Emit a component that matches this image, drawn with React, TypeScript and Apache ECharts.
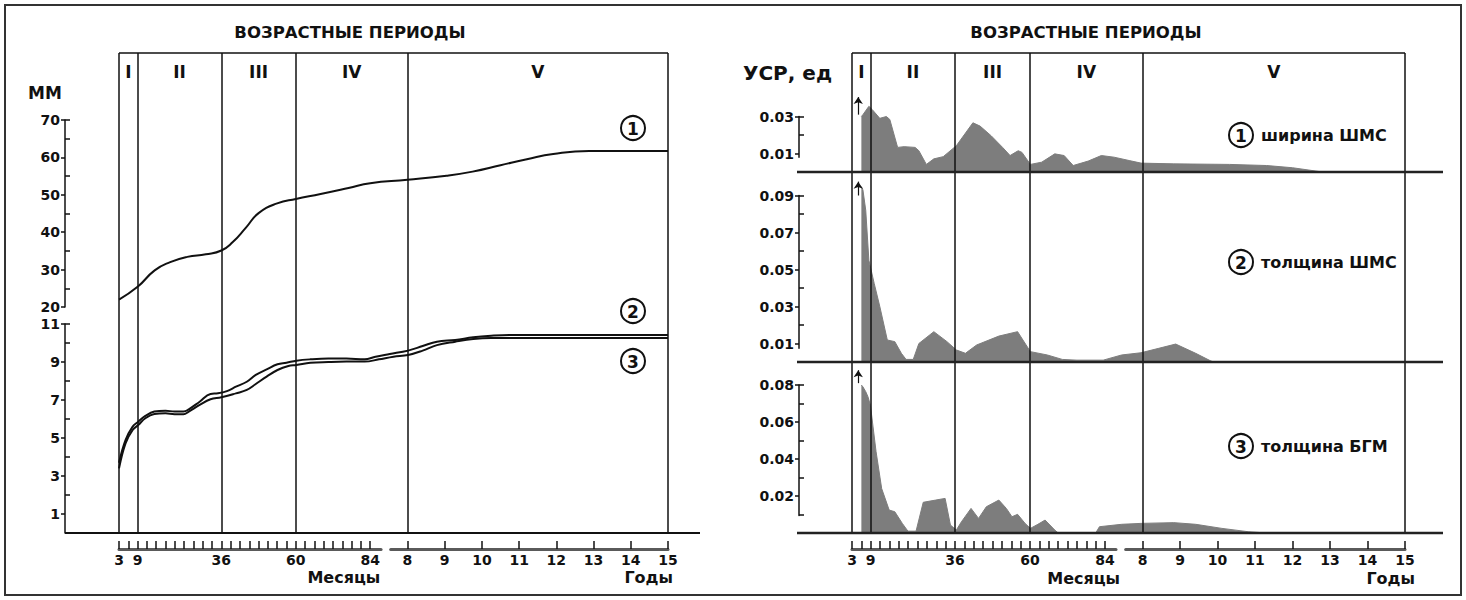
import React, { useEffect, useRef } from "react";
import * as echarts from "echarts";

const FONT = "DejaVu Sans";
const INK = "#111";
const FILL = "#7d7d7d";

// Age axis, in months: 3 months … 15 years
const ageMin = 3;
const ageMax = 180;

const periodEdges = [3, 9, 36, 60, 96, 180];
const periodNames = ["I", "II", "III", "IV", "V"];

const monthTicks = [3, 6, 9, 12, 15, 18, 21, 24, 27, 30, 33, 36, 39, 42, 45, 48, 51, 54, 57, 60, 63, 66, 69, 72, 75, 78, 81, 84];
const monthLabels = [3, 9, 36, 60, 84];
const yearTicks = [8, 9, 10, 11, 12, 13, 14, 15];

const periodTitle = "ВОЗРАСТНЫЕ ПЕРИОДЫ";
const mmTitle = "ММ";
const rateTitle = "УСР, ед";
const monthsName = "Месяцы";
const yearsName = "Годы";

// Absolute sizes, mm
const widthAge = [3, 9, 14.5, 19.5, 25, 31, 36, 39.6, 44, 48, 54, 60, 68, 77, 84, 96, 108.6, 117, 126, 134.5, 143, 154.6, 180];
const widthMm = [22.0, 25.4, 29.8, 32.0, 33.4, 34.1, 35.1, 37.3, 41.3, 45.1, 47.7, 48.9, 50.2, 51.8, 53.1, 54.0, 55.1, 56.2, 57.9, 59.5, 60.9, 61.7, 61.7];

const thickAge = [3, 5.1, 7.4, 9.2, 11.5, 14.4, 18, 20.9, 23.8, 25.5, 29, 32.5, 34.9, 37.8, 40.7, 44.2, 47.1, 50.6, 54.1, 57, 60.2, 64.7, 70.5, 76.3, 82.2, 85.7, 90.3, 96.2, 100.9, 105.5, 111.4, 117.2, 123, 128.9, 180];
const thickMm = [3.7, 4.89, 5.6, 5.86, 6.16, 6.39, 6.44, 6.39, 6.39, 6.51, 6.91, 7.32, 7.35, 7.47, 7.7, 7.96, 8.32, 8.61, 8.88, 8.96, 9.07, 9.14, 9.18, 9.18, 9.14, 9.28, 9.42, 9.6, 9.84, 10.07, 10.16, 10.3, 10.38, 10.42, 10.42];

const gbmAge = [3, 5.1, 7.4, 9.2, 11.5, 14.4, 18, 20.9, 23.8, 25.5, 29, 32.5, 36, 40.7, 44.2, 47.1, 50.6, 54.1, 57.6, 60.2, 64.7, 70.5, 76.3, 82.2, 86.8, 91.5, 96.2, 100.9, 105.5, 111.4, 117.2, 123, 128.9, 180];
const gbmMm = [3.4, 4.72, 5.42, 5.68, 6.04, 6.26, 6.3, 6.25, 6.25, 6.39, 6.74, 7.04, 7.14, 7.35, 7.53, 7.84, 8.23, 8.58, 8.79, 8.84, 8.96, 9.0, 9.02, 9.02, 9.14, 9.28, 9.37, 9.6, 9.89, 10.07, 10.21, 10.26, 10.26, 10.26];

const mmUpperLabels = [20, 30, 40, 50, 60, 70];
const mmUpperMinor = [25, 35, 45, 55, 65, 70];
const mmLowerLabels = [1, 3, 5, 7, 9, 11];
const mmLowerMinor = [2, 4, 6, 8, 10, 11];

// Growth rate (УСР, ед)
const rateWidthAge = [6, 6.5, 8.4, 9.5, 11.9, 14, 15.1, 17.6, 19.7, 23.2, 24.4, 26.8, 29.2, 32.2, 36.4, 41.7, 44, 47.6, 51.2, 53.6, 56.2, 57.4, 60.1, 63.7, 67.9, 70.9, 73.8, 78.6, 82.8, 86.9, 91.7, 95.5, 106, 123.8, 135.7, 144, 153.6];
const rateWidth = [0.030, 0.031, 0.0355, 0.0337, 0.029, 0.030, 0.0284, 0.0133, 0.0137, 0.0133, 0.0115, 0.0041, 0.0071, 0.0083, 0.0142, 0.0266, 0.0248, 0.0195, 0.0133, 0.0089, 0.0115, 0.0106, 0.0041, 0.0053, 0.0098, 0.0089, 0.0035, 0.0059, 0.0089, 0.008, 0.0062, 0.0048, 0.0044, 0.0041, 0.0035, 0.0023, 0];

const rateThickAge = [6, 6.5, 7.4, 8.4, 10.1, 11.9, 14.3, 16.7, 18.8, 20.3, 22.6, 24.4, 29.2, 33.4, 36.4, 39.3, 42.9, 50, 56, 60.1, 65.5, 70.3, 75, 83.4, 89.3, 95.5, 101.2, 106.6, 113, 117.9, 119];
const rateThick = [0.0948, 0.093, 0.082, 0.055, 0.0425, 0.030, 0.0119, 0.011, 0.0047, 0.0014, 0.0014, 0.010, 0.0164, 0.011, 0.0065, 0.0047, 0.0092, 0.014, 0.0164, 0.0056, 0.0038, 0.0014, 0.001, 0.001, 0.0038, 0.005, 0.0074, 0.0097, 0.0047, 0.0005, 0];

const rateGbmAge = [6, 6.5, 7.4, 8.1, 8.9, 10.7, 12.5, 14.9, 16.7, 19.1, 20.9, 23.5, 25.8, 29.8, 32.8, 34.5, 36.4, 38, 41.1, 43.5, 46, 50, 52.4, 54.2, 56, 58.4, 60.1, 62.5, 64.8, 67.9, 69, 81, 82.2, 89.3, 95.5, 106, 113, 121.4, 129.8, 135.7];
const rateGbm = [0.080, 0.079, 0.0764, 0.0737, 0.069, 0.044, 0.024, 0.0124, 0.0115, 0.0052, 0.001, 0.001, 0.0166, 0.0178, 0.0187, 0.0043, 0.0016, 0.006, 0.0133, 0.0079, 0.0142, 0.0178, 0.0133, 0.0088, 0.0101, 0.0052, 0.0025, 0.0047, 0.007, 0.0016, 0, 0, 0.0034, 0.0047, 0.0052, 0.0056, 0.0047, 0.0025, 0.0007, 0];

// Off-scale markers near the start (from, to)
const arrowAge = 5;
const arrowWidth = [0.031, 0.0405];
const arrowThick = [0.09, 0.0975];
const arrowGbm = [0.081, 0.088];

const rateLabels = [[0.01, 0.03], [0.01, 0.03, 0.05, 0.07, 0.09], [0.02, 0.04, 0.06, 0.08]];
const rateMinor = [[0.02, 0.03], [0.02, 0.04, 0.06, 0.08, 0.09], [0.01, 0.03, 0.05, 0.07, 0.08]];
const panelNames = ["ширина ШМС", "толщина ШМС", "толщина БГМ"];
const curveMarks = ["1", "2", "3"];

// ---- layout ----
const LEFT = { x0: 119, x1: 668, axisX: 65, top: 53, base: 533, baseEnd: 700 };
const RIGHT = { x0: 852, x1: 1405, axisX: 799, top: 53, base: 533, baseEnd: 1443 };
const MM_UP = { min: 20, max: 70, top: 120, bottom: 307 };
const MM_LOW = { min: 0, max: 11, top: 324, bottom: 533 };
const RATE_PX = 1850;
const PANELS = [
  { base: 172, axisMin: 0.008, axisMax: 0.03, dataMax: 0.045, labelY: 135 },
  { base: 362, axisMin: 0.0075, axisMax: 0.09, dataMax: 0.1, labelY: 262 },
  { base: 533, axisMin: 0.0095, axisMax: 0.08, dataMax: 0.09, labelY: 446 },
];
const SCALE_Y = 549;

type Side = typeof LEFT;
const ageToX = (s: Side, m: number) => s.x0 + ((m - ageMin) / (ageMax - ageMin)) * (s.x1 - s.x0);
const zip = (xs: number[], ys: number[]) => xs.map((x, i) => [x, ys[i]]);

const textBase = { fontFamily: FONT, fontWeight: "bold" as const, color: INK };

function buildOption() {
  const grid: any[] = [];
  const xAxis: any[] = [];
  const yAxis: any[] = [];
  const series: any[] = [];
  const graphic: any[] = [];

  const hidden = (min: number, max: number) => ({ type: "value", show: false, min, max, axisLine: { onZero: false } });

  const addGrid = (g: any, xa: any, ya: any) => {
    const gi = grid.length;
    grid.push({ ...g, containLabel: false, outerBoundsMode: "none", show: false });
    xAxis.push({ ...xa, gridIndex: gi });
    const yi = yAxis.length;
    yAxis.push({ ...ya, gridIndex: gi });
    return { xi: gi, yi, gi };
  };

  // vertical value axis: labelled outer ticks + inner minor ticks
  const valueAxis = (x: number, top: number, height: number, min: number, max: number, labels: number[], minor: number[], fmt: (v: number) => string) => {
    const g = addGrid({ left: x, top, width: 20, height }, hidden(0, 1), {
      type: "value", min, max, position: "left",
      axisLine: { show: true, onZero: false, lineStyle: { color: INK, width: 1.5 } },
      axisTick: { show: true, inside: false, length: 4, customValues: labels, lineStyle: { color: INK, width: 1.5 } },
      axisLabel: { show: true, customValues: labels, formatter: fmt, margin: 5, fontSize: 14, ...textBase },
      splitLine: { show: false },
    });
    yAxis.push({
      type: "value", gridIndex: g.gi, min, max, position: "left",
      axisLine: { show: false, onZero: false },
      axisTick: { show: true, inside: true, length: 5, customValues: minor, lineStyle: { color: INK, width: 1.5 } },
      axisLabel: { show: false },
      splitLine: { show: false },
    });
  };

  // age scale under each chart: months part and years part
  const scaleAxis = (left: number, right: number, min: number, max: number, ticks: number[], labels: number[]) =>
    addGrid({ left, top: SCALE_Y - 10, width: right - left, height: 10 }, {
      type: "value", min, max, position: "bottom",
      axisLine: { show: true, onZero: false, lineStyle: { color: "#5a5a5a", width: 3 } },
      axisTick: { show: true, inside: true, length: 8, customValues: ticks, lineStyle: { color: INK, width: 1.5 } },
      axisLabel: { show: true, customValues: labels, margin: 4, fontSize: 14, ...textBase },
      splitLine: { show: false },
    }, hidden(0, 1));

  const frame = (s: Side) => {
    const g = addGrid({ left: s.x0, top: s.top, width: s.x1 - s.x0, height: s.base - s.top }, hidden(ageMin, ageMax), hidden(0, 1));
    series.push({
      type: "line", xAxisIndex: g.xi, yAxisIndex: g.yi, data: [[ageMin, 0]], showSymbol: false,
      lineStyle: { opacity: 0 }, silent: true, z: 3,
      markLine: {
        silent: true, symbol: ["none", "none"], label: { show: false },
        lineStyle: { color: INK, width: 1.5, type: "solid" },
        emphasis: { disabled: true },
        data: [...periodEdges.map((e) => ({ xAxis: e })), { yAxis: 1 }],
      },
      markArea: {
        silent: true, itemStyle: { color: "rgba(0,0,0,0)" },
        label: { show: true, position: "insideTop", distance: 10, fontSize: 17, ...textBase },
        data: periodNames.map((n, i) => [{ name: n, xAxis: periodEdges[i] }, { xAxis: periodEdges[i + 1] }]),
      },
    });
    scaleAxis(ageToX(s, 3), ageToX(s, 87.5), 3, 87.5, monthTicks, monthLabels);
    scaleAxis(ageToX(s, 7.55 * 12), s.x1, 7.55, 15, yearTicks, yearTicks);
  };

  const mark = (cx: number, cy: number, digit: string) => {
    graphic.push({ type: "circle", z: 20, shape: { cx, cy, r: 12 }, style: { fill: "#fff", stroke: INK, lineWidth: 2 } });
    graphic.push({ type: "text", z: 21, x: cx, y: cy + 1, style: { text: digit, fill: INK, fontFamily: FONT, fontSize: 17, fontWeight: "bold", align: "center", verticalAlign: "middle" } });
  };

  // ---------- left chart: absolute sizes ----------
  frame(LEFT);
  const up = addGrid({ left: LEFT.x0, top: MM_UP.top, width: LEFT.x1 - LEFT.x0, height: MM_UP.bottom - MM_UP.top }, hidden(ageMin, ageMax), hidden(MM_UP.min, MM_UP.max));
  const low = addGrid({ left: LEFT.x0, top: MM_LOW.top, width: LEFT.x1 - LEFT.x0, height: MM_LOW.bottom - MM_LOW.top }, hidden(ageMin, ageMax), hidden(MM_LOW.min, MM_LOW.max));
  const curve = (g: any, data: number[][], smooth: number) => ({
    type: "line", xAxisIndex: g.xi, yAxisIndex: g.yi, data, smooth,
    showSymbol: false, silent: true, z: 4, lineStyle: { color: INK, width: 2 },
  });
  series.push(curve(up, zip(widthAge, widthMm), 0.5));
  series.push(curve(low, zip(thickAge, thickMm), 0.4));
  series.push(curve(low, zip(gbmAge, gbmMm), 0.4));
  valueAxis(LEFT.axisX, MM_UP.top, MM_UP.bottom - MM_UP.top, MM_UP.min, MM_UP.max, mmUpperLabels, mmUpperMinor, (v) => String(v));
  valueAxis(LEFT.axisX, MM_LOW.top, MM_LOW.bottom - MM_LOW.top, MM_LOW.min, MM_LOW.max, mmLowerLabels, mmLowerMinor, (v) => String(v));

  graphic.push({ type: "line", z: 10, shape: { x1: LEFT.axisX, y1: LEFT.base, x2: LEFT.baseEnd, y2: LEFT.base }, style: { stroke: INK, lineWidth: 2 } });
  mark(633, 128, curveMarks[0]);
  mark(633, 311, curveMarks[1]);
  mark(633, 361, curveMarks[2]);

  // ---------- right chart: growth rate ----------
  frame(RIGHT);
  const rateData = [zip(rateWidthAge, rateWidth), zip(rateThickAge, rateThick), zip(rateGbmAge, rateGbm)];
  const arrows = [arrowWidth, arrowThick, arrowGbm];
  PANELS.forEach((p, i) => {
    const g = addGrid({ left: RIGHT.x0, top: p.base - p.dataMax * RATE_PX, width: RIGHT.x1 - RIGHT.x0, height: p.dataMax * RATE_PX }, hidden(ageMin, ageMax), hidden(0, p.dataMax));
    series.push({
      type: "line", xAxisIndex: g.xi, yAxisIndex: g.yi, data: rateData[i], showSymbol: false, silent: true, z: 2,
      lineStyle: { color: FILL, width: 1 }, areaStyle: { color: FILL, opacity: 1 },
      markLine: {
        silent: true, symbol: ["none", "arrow"], symbolSize: 7, label: { show: false },
        lineStyle: { color: INK, width: 1.2, type: "solid" }, emphasis: { disabled: true },
        data: [[{ coord: [arrowAge, arrows[i][0]] }, { coord: [arrowAge, arrows[i][1]] }]],
      },
    });
    valueAxis(RIGHT.axisX, p.base - p.axisMax * RATE_PX, (p.axisMax - p.axisMin) * RATE_PX, p.axisMin, p.axisMax, rateLabels[i], rateMinor[i], (v) => v.toFixed(2));
    graphic.push({ type: "line", z: 10, shape: { x1: RIGHT.axisX - 2, y1: p.base, x2: RIGHT.baseEnd, y2: p.base }, style: { stroke: "#222", lineWidth: 2.5 } });
    mark(1241, p.labelY, curveMarks[i]);
    graphic.push({ type: "text", z: 21, x: 1261, y: p.labelY, style: { text: panelNames[i], fill: INK, fontFamily: FONT, fontSize: 16, fontWeight: "bold", align: "left", verticalAlign: "middle" } });
  });

  // ---------- titles, units, frame ----------
  const label = (x: number, y: number, text: string, size: number, align = "center") =>
    graphic.push({ type: "text", z: 21, x, y, style: { text, fill: INK, fontFamily: FONT, fontSize: size, fontWeight: "bold", align, verticalAlign: "middle" } });
  label(350, 32, periodTitle, 16.5);
  label(1086, 32, periodTitle, 16.5);
  label(45, 93, mmTitle, 17);
  label(743, 73, rateTitle, 20, "left");
  label(ageToX(LEFT, 84) + 10, 577, monthsName, 16, "right");
  label(LEFT.x1 + 5, 577, yearsName, 16, "right");
  label(ageToX(RIGHT, 84) + 15, 578, monthsName, 16, "right");
  label(RIGHT.x1 + 10, 578, yearsName, 16, "right");
  graphic.push({ type: "rect", z: 0, shape: { x: 5, y: 5, width: 1456, height: 590 }, style: { fill: "none", stroke: "#333", lineWidth: 2 } });

  return {
    animation: false,
    backgroundColor: "#fff",
    textStyle: { fontFamily: FONT },
    grid, xAxis, yAxis, series, graphic,
  };
}

export default function App() {
  const ref = useRef<HTMLDivElement>(null);
  useEffect(() => {
    if (!ref.current) return;
    const chart = echarts.init(ref.current, undefined, { renderer: "svg", width: 1466, height: 600 });
    chart.setOption(buildOption() as any);
    return () => chart.dispose();
  }, []);
  return <div ref={ref} style={{ position: "absolute", left: 0, top: 0, width: 1466, height: 600, background: "#fff" }} />;
}
